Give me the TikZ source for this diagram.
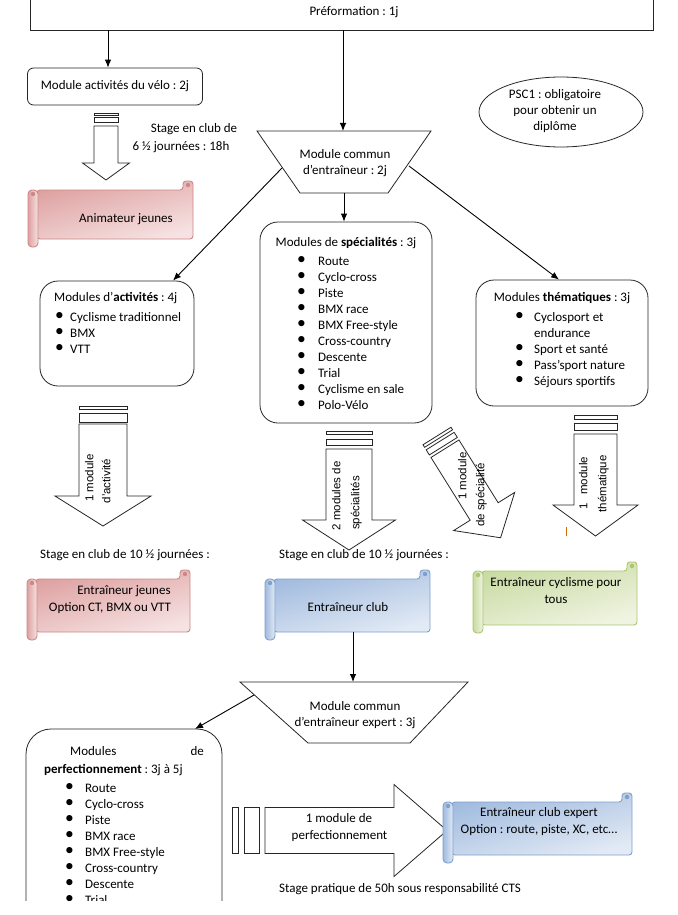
\documentclass[tikz,border=0pt]{standalone}
\usepackage{fontspec}
\usepackage{graphicx}
\setmainfont{Carlito}
\newfontfamily\rotfont{Liberation Sans}
\usetikzlibrary{shapes.geometric,arrows.meta}
\frenchspacing
\definecolor{pinkD}{RGB}{222,160,160}
\definecolor{pinkL}{RGB}{246,226,226}
\definecolor{pinkB}{RGB}{205,135,135}
\definecolor{blueD}{RGB}{160,186,222}
\definecolor{blueL}{RGB}{226,234,245}
\definecolor{blueB}{RGB}{125,160,205}
\definecolor{greenD}{RGB}{200,218,160}
\definecolor{greenL}{RGB}{239,244,226}
\definecolor{greenB}{RGB}{170,198,110}
\newcommand\bul{\raisebox{0.3pt}{\scalebox{1.35}{\textbullet}}}
\newcommand\BlkArrow[9]{%
  \begin{scope}[shift={(#1,#2)},rotate=#3]
    \foreach \sa/\sb in {#6} {\draw[blk] (-#4,\sa) rectangle (#4,\sb);}
    \draw[blk] (-#4,#7) -- (#4,#7) -- (#4,#8) -- (#5,#8) -- (0,#9) -- (-#5,#8) -- (-#4,#8) -- cycle;
  \end{scope}}
\newcommand\Scroll[7]{%
  \shadedraw[top color=#5,bottom color=#6,shading angle=15,draw=#7,line width=0.9pt,rounded corners=3pt]
    (#1+9,#2+9) -- (#3-10,#2+9) -- (#3-10,#2) -- (#3,#2) -- (#3,#4-8) -- (#1+9,#4-8) -- cycle;
  \shadedraw[left color=#5,right color=#6,draw=#7,line width=0.9pt,rounded corners=4pt]
    (#1,#2+9) -- (#1+10,#2+9) -- (#1+10,#4) -- (#1,#4) -- cycle;
  \fill[#7] (#1+5,#2+13) circle (2.2);
  \fill[#7] (#3-5,#2+4) circle (2.2);
}
\begin{document}
\begin{tikzpicture}[x=1pt,y=-1pt,
  font=\fontsize{13}{16}\selectfont,
  box/.style={draw=black!85,line width=0.8pt,rounded corners=18pt,inner sep=0pt},
  sbox/.style={draw=black!85,line width=0.8pt,rounded corners=6pt,inner sep=0pt},
  ln/.style={draw=black!85,line width=0.8pt},
  arr/.style={draw=black,line width=0.9pt,-{Latex[length=8pt,width=6.5pt]}},
  blk/.style={draw=black!85,line width=0.8pt,fill=white},
  txt/.style={inner sep=0pt,text height=9pt,text depth=2.5pt},
  rot/.style={txt,rotate=90,font=\rotfont\fontsize{11.5}{14}\selectfont},
  lst/.style={anchor=base west,inner sep=0pt}]

\useasboundingbox (0,0) rectangle (677,915);

% top box
\node[ln,minimum width=623pt,minimum height=50pt,inner sep=0pt] (pref) at (341.5,5) {};
\node[txt] (preft) at (354,12) {Préformation : 1j};

\node[sbox,txt,minimum width=175pt,minimum height=37pt] (mav) at (115,86.5) {Module activités du vélo : 2j};
\coordinate (ax1) at (108,0);
\draw[arr] (pref.south -| ax1) -- (mav.north -| ax1);

% trapezoid 1
\coordinate (t1a) at (257,131);
\coordinate (t1b) at (431,131);
\coordinate (t1c) at (388,193);
\coordinate (t1d) at (300,193);
\draw[ln] (t1a) -- (t1b) -- (t1c) -- (t1d) -- cycle;
\coordinate (t1top) at (343,131);
\coordinate (t1bot) at (344,193);
\coordinate (t1left) at (282,168);
\coordinate (t1right) at (409,166);
\node[align=center,inner sep=0pt] (mc1) at (345,163) {Module commun\\d’entraîneur : 2j};
\coordinate (ax2) at (343,0);
\draw[arr] (pref.south -| ax2) -- (t1top);

% PSC1
\node[ellipse,ln,minimum width=164pt,minimum height=70pt,inner sep=0pt] (psc) at (561,112) {};
\node[align=center,inner sep=0pt] (psct) at (555,111) {PSC1 : obligatoire\\pour obtenir un\\diplôme};

% first block arrow
\BlkArrow{106}{113}{0}{12}{23.5}{0/2,4/9}{13}{50}{67}
\node[txt] (st1a) at (194,129) {Stage en club de};
\node[txt] (st1b) at (181,147) {6 ½ journées : 18h};

\Scroll{28}{181}{193}{247}{pinkD}{pinkL}{pinkB}
\node[txt] (anim) at (126,219) {Animateur jeunes};

% three module boxes
\node[box,minimum width=172pt,minimum height=201pt] (spec) at (346,322.5) {};
\node[txt] (spect) at (346,243) {Modules de \textbf{spécialités} : 3j};
\node[lst] (specl) at (297,265) {\begin{tabular}[t]{@{}p{21pt}@{}l@{}}
\bul & Route\\ \bul & Cyclo-cross\\ \bul & Piste\\ \bul & BMX race\\
\bul & BMX Free-style\\ \bul & Cross-country\\ \bul & Descente\\ \bul & Trial\\
\bul & Cyclisme en sale\\ \bul & Polo-Vélo\end{tabular}};

\node[box,minimum width=154pt,minimum height=105pt] (act) at (117,333.5) {};
\node[txt,anchor=west] (actt) at (54,298) {Modules d’\textbf{activités} : 4j};
\node[lst] (actl) at (55,321) {\begin{tabular}[t]{@{}p{15pt}@{}l@{}}
\bul & Cyclisme traditionnel\\ \bul & BMX\\ \bul & VTT\end{tabular}};

\node[box,minimum width=172pt,minimum height=126pt] (thm) at (562,343) {};
\node[txt] (thmt) at (562,298) {Modules \textbf{thématiques} : 3j};
\node[lst] (thml) at (515,321) {\begin{tabular}[t]{@{}p{19pt}@{}l@{}}
\bul & Cyclosport et\\ & endurance\\ \bul & Sport et santé\\ \bul & Pass’sport nature\\
\bul & Séjours sportifs\end{tabular}};

\coordinate (ax3) at (173,0);
\coordinate (ax4) at (559,0);
\draw[arr] (t1left) -- (act.north -| ax3);
\draw[arr] (t1right) -- (thm.north -| ax4);
\draw[arr] (t1bot) -- (t1bot |- spec.north);

% second row block arrows
\BlkArrow{103}{406}{0}{24}{48}{0/3,7/16}{18}{90}{120}
\BlkArrow{349}{431}{0}{23}{46.5}{0/3,8/14}{18}{89}{119}
\BlkArrow{437}{436}{32}{16.5}{36}{0/3,6/12}{15}{89}{120}
\BlkArrow{595.5}{415}{0}{21.5}{42.5}{0/4,8/15}{19}{90}{121}
\node[rot] (r1a) at (90,478) {1 module};
\node[rot] (r1b) at (107,481) {d’activité};
\node[rot] (r2a) at (337,496) {2 modules de};
\node[rot] (r2b) at (356,503) {spécialités};
\node[rot] (r3a) at (463,476) {1 module};
\node[rot] (r3b) at (481,495) {de spécialité};
\node[rot] (r4a) at (584,483) {1\hspace{8pt}module};
\node[rot] (r4b) at (603,484) {thématique};
\draw[orange!85!black,line width=0.7pt] (566,527) -- (566,536);

\node[txt] (st2) at (125,555) {Stage en club de 10 ½ journées :};
\node[txt] (st3) at (364,555) {Stage en club de 10 ½ journées :};

% scrolls row 2
\Scroll{27}{570}{190}{640}{pinkD}{pinkL}{pinkB}
\node[txt] (ej1) at (124,591) {Entraîneur jeunes};
\node[txt] (ej2) at (110,608) {Option CT, BMX ou VTT};
\Scroll{265}{570}{430}{640}{blueD}{blueL}{blueB}
\node[txt] (ec) at (348,608) {Entraîneur club};
\Scroll{473}{562}{637}{633}{greenD}{greenL}{greenB}
\node[txt] (cpt1) at (556,583) {Entraîneur cyclisme pour};
\node[txt] (cpt2) at (556,600) {tous};

% trapezoid 2
\coordinate (t2a) at (240,682);
\coordinate (t2b) at (468,682);
\coordinate (t2c) at (410,743);
\coordinate (t2d) at (308,743);
\draw[ln] (t2a) -- (t2b) -- (t2c) -- (t2d) -- cycle;
\coordinate (t2top) at (353,682);
\coordinate (t2left) at (254,695);
\coordinate (clubbot) at (353,632);
\node[align=center,inner sep=0pt] (mc2) at (355,715) {Module commun\\d’entraîneur expert : 3j};
\draw[arr] (clubbot) -- (t2top);
\coordinate (perftop) at (195,729);
\draw[arr] (t2left) -- (perftop);

% perfectionnement box
\begin{scope}
\clip (0,0) rectangle (677,900.5);
\draw[ln,rounded corners=25pt] (26,729) rectangle (222,960);
\node[txt,anchor=west] (pm1) at (70,752) {Modules};
\node[txt,anchor=east] (pm2) at (204,752) {de};
\node[txt,anchor=west] (pm3) at (44,770) {\textbf{perfectionnement} : 3j à 5j};
\node[lst] (perfl) at (65,792) {\begin{tabular}[t]{@{}p{20pt}@{}l@{}}
\bul & Route\\ \bul & Cyclo-cross\\ \bul & Piste\\ \bul & BMX race\\
\bul & BMX Free-style\\ \bul & Cross-country\\ \bul & Descente\\ \bul & Trial\end{tabular}};
\end{scope}

% horizontal block arrow
\BlkArrow{232}{830.5}{90}{23}{46}{0/6.5,12.5/27}{33}{162}{215}
\node[txt] (h1) at (339,819) {1 module de};
\node[txt] (h2) at (339.5,836) {perfectionnement};

\Scroll{443}{793}{632}{863}{blueD}{blueL}{blueB}
\node[txt] (ece1) at (539,813) {Entraîneur club expert};
\node[txt] (ece2) at (539,830) {Option : route, piste, XC, etc…};

\node[txt] (sp) at (400,889) {Stage pratique de 50h sous responsabilité CTS};
\end{tikzpicture}
\end{document}
